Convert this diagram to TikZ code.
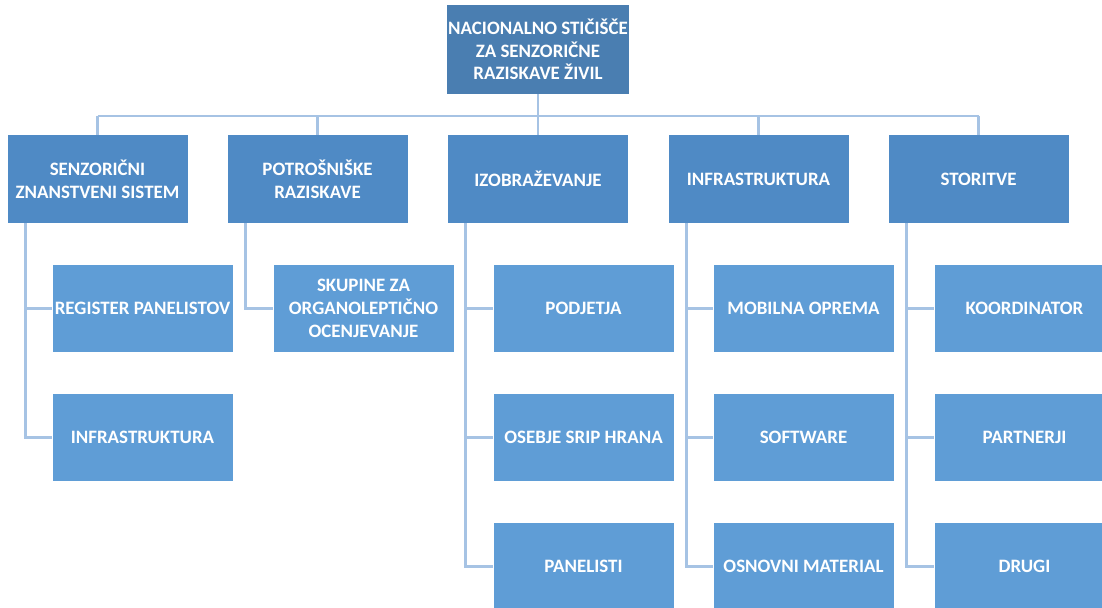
\documentclass[tikz,border=0pt]{standalone}
\usepackage{fontspec}
\setmainfont{Carlito}
\usepackage{tikz}
\usetikzlibrary{calc}
\definecolor{topblue}{RGB}{74,126,177}
\definecolor{mainblue}{RGB}{79,138,197}
\definecolor{subblue}{RGB}{95,157,214}
\definecolor{lineblue}{RGB}{166,195,228}
\tikzstyle{topnode} = [rectangle, fill=topblue, text=white, font=\fontsize{14.2}{17}\selectfont\bfseries, align=center, minimum width=135pt, minimum height=66.75pt, inner sep=1pt]
\tikzstyle{mainnode} = [topnode, fill=mainblue, minimum height=66pt]
\tikzstyle{subnode} = [topnode, fill=subblue, minimum height=65.25pt]
\tikzstyle{line} = [draw, lineblue, line width=2.2pt]

\begin{document}
\begin{tikzpicture}[x=0.75pt, y=-0.75pt]
			\useasboundingbox (0,0) rectangle (1102,607);
			% vrh
			\node [topnode] (top) at (538, 49.5) {NACIONALNO STIČIŠČE\\ZA SENZORIČNE\\RAZISKAVE ŽIVIL};
			\coordinate (bus) at (538, 116);

			% prvi nivo
			\node [mainnode] (sen) at (97.5, 179) {SENZORIČNI\\ZNANSTVENI SISTEM};
			\node [mainnode] (pot) at (317.5, 179) {POTROŠNIŠKE\\RAZISKAVE};
			\node [mainnode] (izo) at (538, 179) {IZOBRAŽEVANJE};
			\node [mainnode] (inf) at (758.5, 179) {INFRASTRUKTURA};
			\node [mainnode] (sto) at (978.5, 179) {STORITVE};

			% drugi nivo
			\node [subnode] (sen1) at (142.5, 308.5) {REGISTER PANELISTOV};
			\node [subnode] (sen2) at (142.5, 437.5) {INFRASTRUKTURA};
			\node [subnode] (pot1) at (363.5, 308.5) {SKUPINE ZA\\ORGANOLEPTIČNO\\OCENJEVANJE};
			\node [subnode] (izo1) at (583.5, 308.5) {PODJETJA};
			\node [subnode] (izo2) at (583.5, 437.5) {OSEBJE SRIP HRANA};
			\node [subnode] (izo3) at (583.5, 566.5) {PANELISTI};
			\node [subnode] (inf1) at (803.5, 308.5) {MOBILNA OPREMA};
			\node [subnode] (inf2) at (803.5, 437.5) {SOFTWARE};
			\node [subnode] (inf3) at (803.5, 566.5) {OSNOVNI MATERIAL};
			\node [subnode] (sto1) at (1024.5, 308.5) {KOORDINATOR};
			\node [subnode] (sto2) at (1024.5, 437.5) {PARTNERJI};
			\node [subnode] (sto3) at (1024.5, 566.5) {DRUGI};

			\path [line] (top) -- (bus);
			\path [line] (sen.north |- bus) -- (sto.north |- bus);
			\foreach \s in {sen, pot, izo, inf, sto}
				\path [line] (\s.north |- bus) -- (\s.north);

			\path [line] ($(sen.south west)+(18,0)$) |- (sen1.west);
			\path [line] ($(sen.south west)+(18,0)$) |- (sen2.west);
			\path [line] ($(pot.south west)+(18,0)$) |- (pot1.west);
			\foreach \s in {izo, inf, sto} {
				\path [line] ($(\s.south west)+(18,0)$) |- (\s1.west);
				\path [line] ($(\s.south west)+(18,0)$) |- (\s2.west);
				\path [line] ($(\s.south west)+(18,0)$) |- (\s3.west);
			}
		\end{tikzpicture}
\end{document}
